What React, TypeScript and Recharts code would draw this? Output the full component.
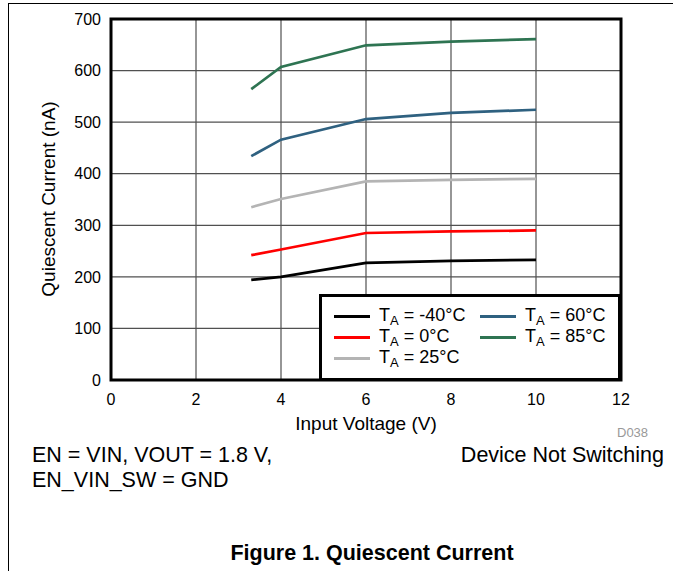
import type { FC } from 'react';
import { LineChart, Line, XAxis, YAxis, CartesianGrid, ReferenceArea, Legend, Label } from 'recharts';

// input voltage (V) and quiescent current (nA)
const vin = [3.3, 4, 6, 8, 10];
const iqMinus40 = [194, 200, 227, 231, 233];
const iq0 = [242, 253, 285, 288, 290];
const iq25 = [335, 351, 385, 388, 390];
const iq60 = [434, 466, 506, 518, 524];
const iq85 = [564, 607, 649, 656, 661];

const xTicks = [0, 2, 4, 6, 8, 10, 12];
const yTicks = [0, 100, 200, 300, 400, 500, 600, 700];

const series = [
  { key: 'm40', label: '-40°C', color: '#000000', values: iqMinus40 },
  { key: 't0', label: '0°C', color: '#ff0000', values: iq0 },
  { key: 't25', label: '25°C', color: '#b4b4b4', values: iq25 },
  { key: 't60', label: '60°C', color: '#2f6180', values: iq60 },
  { key: 't85', label: '85°C', color: '#2e7452', values: iq85 },
];

const data = vin.map((v, i) => {
  const row: Record<string, number> = { vin: v };
  series.forEach(s => { row[s.key] = s.values[i]; });
  return row;
});

const FONT = '"Liberation Sans", Arial, sans-serif';

const LegendBox: FC = () => (
  <div
    style={{
      boxSizing: 'border-box',
      width: 302,
      height: 87,
      border: '3px solid #000',
      background: '#fff',
      padding: '9px 0 0 12px',
      display: 'grid',
      gridTemplateRows: 'repeat(3, 21px)',
      gridTemplateColumns: '146px 140px',
      gridAutoFlow: 'column',
      fontFamily: FONT,
      fontSize: 18,
      color: '#000',
    }}
  >
    {series.map(s => (
      <div key={s.key} style={{ display: 'flex', alignItems: 'center', whiteSpace: 'nowrap' }}>
        <span style={{ display: 'inline-block', width: 36, height: 3, background: s.color, marginRight: 9 }} />
        <span>
          T<sub style={{ fontSize: 13, verticalAlign: -4 }}>A</sub> = {s.label}
        </span>
      </div>
    ))}
  </div>
);

const YTitle: FC<any> = () => (
  <text
    x={55}
    y={199}
    transform="rotate(-90 55 199)"
    textAnchor="middle"
    fontSize={19}
    fontFamily={FONT}
    fill="#000"
  >
    Quiescent Current (nA)
  </text>
);

const App: FC = () => (
  <div
    style={{
      position: 'absolute',
      left: 0,
      top: 0,
      width: 673,
      height: 571,
      background: '#fff',
      overflow: 'hidden',
      fontFamily: FONT,
      color: '#000',
    }}
  >
    <div style={{ position: 'absolute', left: 0, top: 0 }}>
      <LineChart width={673} height={440} data={data} margin={{ top: 19, right: 52, left: 0, bottom: 0 }}>
        <CartesianGrid stroke="#505050" strokeWidth={1.2} />
        <XAxis
          dataKey="vin"
          type="number"
          domain={[0, 12]}
          ticks={xTicks}
          height={60}
          tickLine={false}
          axisLine={false}
          tickSize={0}
          tickMargin={14}
          tick={{ fill: '#000', fontSize: 16, fontFamily: FONT }}
        >
          <Label value="Input Voltage (V)" position="insideBottom" offset={10} fontSize={19} fontFamily={FONT} fill="#000" />
        </XAxis>
        <YAxis
          type="number"
          domain={[0, 700]}
          ticks={yTicks}
          width={111}
          tickLine={false}
          axisLine={false}
          tickSize={0}
          tickMargin={10}
          tick={{ fill: '#000', fontSize: 16, fontFamily: FONT }}
        >
          <Label content={<YTitle />} />
        </YAxis>
        <ReferenceArea x1={0} x2={12} y1={0} y2={700} fill="none" stroke="#000" strokeWidth={3} />
        {series.map(s => (
          <Line
            key={s.key}
            dataKey={s.key}
            type="linear"
            stroke={s.color}
            strokeWidth={2.7}
            dot={false}
            isAnimationActive={false}
          />
        ))}
        <Legend
          layout="horizontal"
          verticalAlign="middle"
          align="center"
          content={<LegendBox />}
          wrapperStyle={{ left: 319, top: 294, width: 302, height: 87 }}
        />
      </LineChart>
    </div>
    {/* page frame: top and left rules */}
    <div style={{ position: 'absolute', left: 8, top: 3, width: 665, height: 1, background: '#000', zIndex: 2 }} />
    <div style={{ position: 'absolute', left: 8, top: 3, width: 1, height: 568, background: '#000', zIndex: 2 }} />
    <div style={{ position: 'absolute', left: 617, top: 425, fontSize: 13, color: '#999' }}>D038</div>
    <div style={{ position: 'absolute', left: 32, top: 443, fontSize: 21.5, lineHeight: '25px' }}>
      EN = VIN, VOUT = 1.8 V,
      <br />
      EN_VIN_SW = GND
    </div>
    <div style={{ position: 'absolute', right: 9, top: 443, fontSize: 21.5, lineHeight: '25px' }}>
      Device Not Switching
    </div>
    <div
      style={{
        position: 'absolute',
        left: 0,
        width: 744,
        top: 541,
        textAlign: 'center',
        fontSize: 21.5,
        fontWeight: 'bold',
      }}
    >
      Figure 1. Quiescent Current
    </div>
  </div>
);

export default App;
